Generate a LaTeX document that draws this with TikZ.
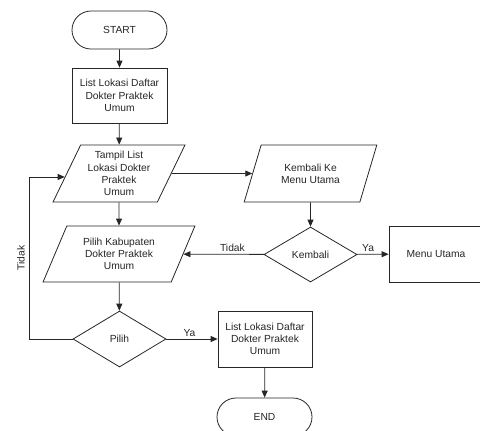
\documentclass[tikz,border=0pt]{standalone}
\usepackage{fontspec}
\setmainfont{Liberation Sans}
\usetikzlibrary{shapes.geometric,shapes.misc,arrows.meta,calc}
\begin{document}
\begin{tikzpicture}[x=1bp,y=-1bp,
  every node/.style={font=\fontsize{10.3}{12.3}\selectfont, text=black!85, align=center},
  line/.style={draw=black!85, line width=0.8bp},
  arr/.style={line, -{Triangle[length=7bp,width=6bp]}},
  term/.style={line, rounded rectangle, minimum width=95bp, minimum height=38bp, inner sep=0pt},
  proc/.style={line, rectangle, minimum width=95bp, minimum height=55bp, inner sep=0pt},
  io/.style={line, trapezium, trapezium left angle=63, trapezium right angle=117,
             trapezium stretches=true, inner sep=0pt},
  dec/.style={line, diamond, minimum width=93bp, minimum height=56bp, inner sep=0pt},
  lbl/.style={draw=none, inner sep=2pt}
]
\useasboundingbox (0,0) rectangle (480,430);
\clip (0,0) rectangle (480,430);

% flow nodes
\node[term] (start) at (119.5,30) {START};
\node[proc] (list1) at (119.5,95.5) {List Lokasi Daftar\\Dokter Praktek\\Umum};
\node[io, minimum width=132bp, minimum height=57bp] (tampil) at (119,173.5)
  {Tampil List\\Lokasi Dokter\\Praktek\\Umum};
\node[io, minimum width=133bp, minimum height=57bp] (kembalike) at (310.5,173.5)
  {Kembali Ke\\Menu Utama};
\node[dec, minimum height=55bp] (kembali) at (310.5,254.5) {Kembali};
\node[proc, minimum width=94bp, minimum height=56bp] (menu) at (436,254) {Menu Utama};
\node[io, minimum width=152bp, minimum height=56bp] (pilihkab) at (119,254)
  {Pilih Kabupaten\\Dokter Praktek\\Umum};
\node[dec] (pilih) at (119.5,339) {Pilih};
\node[proc, minimum width=94bp, minimum height=56bp] (list2) at (265,339)
  {List Lokasi Daftar\\Dokter Praktek\\Umum};
\node[term] (end) at (264.5,417) {END};

% loop corner on the left
\coordinate (loop) at (29,339);
\coordinate (entry) at ($(tampil.bottom left corner)!0.44!(tampil.top left corner)$);

% connectors
\draw[arr] (start) -- (list1);
\draw[arr] (list1) -- (tampil);
\draw[arr] (tampil) -- (kembalike);
\draw[arr] (kembalike) -- (kembali);
\draw[arr] (kembali) -- node[lbl, above, pos=0.35] (ya1) {Ya} (menu);
\draw[arr] (kembali) -- node[lbl, above, pos=0.39] (tidak1) {Tidak} (pilihkab);
\draw[arr] (tampil) -- (pilihkab);
\draw[arr] (pilihkab) -- (pilih);
\draw[arr] (pilih) -- node[lbl, above, pos=0.45] (ya2) {Ya} (list2);
\draw[arr] (pilih.west) -- (loop) |- (entry);
\draw[arr] (list2) -- (end);

\node[lbl, rotate=90] (tidak2) at (21,258) {Tidak};
\end{tikzpicture}
\end{document}
